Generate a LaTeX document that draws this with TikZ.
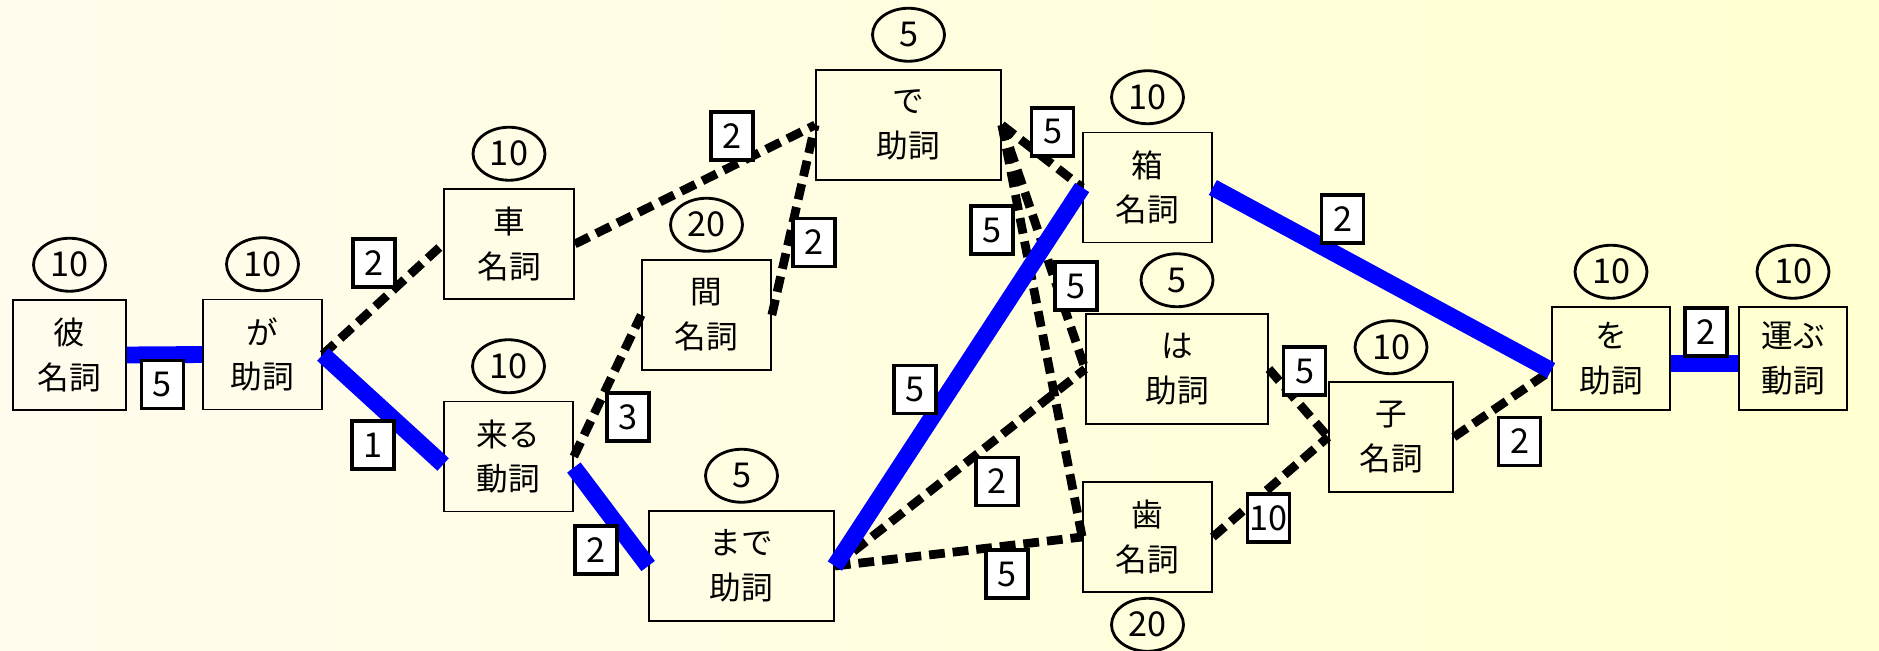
\documentclass[tikz,border=0pt]{standalone}
\usepackage{fontspec}
\setmainfont{Noto Sans CJK JP}
\usetikzlibrary{calc,positioning,shapes.geometric}
\definecolor{bgleft}{HTML}{FFFCEE}
\definecolor{bgright}{HTML}{FFFFD0}
\definecolor{pathblue}{HTML}{0000FF}

\begin{document}
\begin{tikzpicture}[x=0.02cm, y=-0.02cm,
    word/.style={draw=black, line width=1pt, minimum height=2.2cm, inner sep=0pt,
      align=center, font=\fontsize{18}{25.5}\selectfont},
    cost/.style={ellipse, draw=black, line width=1.6pt, minimum width=1.44cm,
      minimum height=1.06cm, inner sep=0pt, font=\fontsize{19.5}{19.5}\selectfont},
    weight/.style={draw=black, line width=1.8pt, fill=white, minimum width=0.84cm,
      minimum height=0.96cm, inner sep=0pt, font=\fontsize{19.5}{19.5}\selectfont},
    best/.style={draw=pathblue, line width=9.6pt},
    other/.style={draw=black, line width=5pt, dash pattern=on 9pt off 4.5pt}]

     \useasboundingbox (0,0) rectangle (1879,650);
     \shade[left color=bgleft, right color=bgright] (0,0) rectangle (1879,650);

     \node[word, minimum width=2.26cm] (kare)   at (69.5,355)   {彼\\名詞};
     \node[word, minimum width=2.38cm] (ga)     at (262.5,354.5) {が\\助詞};
     \node[word, minimum width=2.6cm]  (kuruma) at (509,244)    {車\\名詞};
     \node[word, minimum width=2.58cm] (kuru)   at (508.5,456.5) {来る\\動詞};
     \node[word, minimum width=2.58cm] (aida)   at (706.5,315)  {間\\名詞};
     \node[word, minimum width=3.7cm]  (de)     at (908.5,125)  {で\\助詞};
     \node[word, minimum width=3.7cm]  (made)   at (741.5,566)  {まで\\助詞};
     \node[word, minimum width=2.58cm] (hako)   at (1147.5,187.5) {箱\\名詞};
     \node[word, minimum width=3.64cm] (wa)     at (1177,369)   {は\\助詞};
     \node[word, minimum width=2.58cm] (ha)     at (1147.5,537) {歯\\名詞};
     \node[word, minimum width=2.48cm] (ko)     at (1391,437)   {子\\名詞};
     \node[word, minimum width=2.36cm, minimum height=2.06cm] (wo)     at (1611,358.5) {を\\助詞};
     \node[word, minimum width=2.16cm, minimum height=2.06cm] (hakobu) at (1793,358.5) {運ぶ\\動詞};

     \node[cost, above=0.13cm of kare]   (kareC)   {10};
     \node[cost, above=0.13cm of ga]     (gaC)     {10};
     \node[cost, above=0.13cm of kuruma] (kurumaC) {10};
     \node[cost, above=0.13cm of kuru]   (kuruC)   {10};
     \node[cost, above=0.13cm of aida]   (aidaC)   {20};
     \node[cost, above=0.13cm of de]     (deC)     {5};
     \node[cost, above=0.13cm of made]   (madeC)   {5};
     \node[cost, above=0.13cm of hako]   (hakoC)   {10};
     \node[cost, above=0.1cm of wa]      (waC)     {5};
     \node[cost, below=0.08cm of ha]     (haC)     {20};
     \node[cost, above=0.12cm of ko]     (koC)     {10};
     \node[cost, above=0.13cm of wo]     (woC)     {10};
     \node[cost, above=0.13cm of hakobu] (hakobuC) {10};

     \coordinate (kuruIn)   at ($(kuru.west)+(0,8)$);
     \coordinate (kuruOut)  at ($(kuru.east)+(0,11)$);
     \coordinate (woIn)     at ($(wo.west)+(0,12)$);
     \coordinate (woOut)    at ($(wo.east)+(0,5)$);
     \coordinate (hakobuIn) at ($(hakobu.west)+(0,5)$);

     \draw[other] (ga.east) -- (kuruma.west);
     \draw[other] (kuruma.east) -- (de.west);
     \draw[other] (kuru.east) -- (aida.west);
     \draw[other] (aida.east) -- (de.west);
     \draw[other] (de.east) -- (hako.west);
     \draw[other] (de.east) -- (wa.west);
     \draw[other] (de.east) -- (ha.west);
     \draw[other] (made.east) -- (wa.west);
     \draw[other] (made.east) -- (ha.west);
     \draw[other] (wa.east) -- (ko.west);
     \draw[other] (ha.east) -- (ko.west);
     \draw[other] (ko.east) -- (woIn);

     \draw[best] (kare.east) -- (ga.west);
     \draw[best] (ga.east) -- (kuruIn);
     \draw[best] (kuruOut) -- (made.west);
     \draw[best] (made.east) -- (hako.west);
     \draw[best] (hako.east) -- (woIn);
     \draw[best] (woOut) -- (hakobuIn);

     \foreach \x/\y/\w [count=\i] in {162.5/384.5/5, 374/263/2, 373/445/1, 732/136/2,
         628/417/3, 596/550/2, 814/242.5/2, 1052.5/132/5, 992/230/5, 1076/286/5,
         915/389.5/5, 997/481.5/2, 1007/574/5, 1342.5/219/2, 1304.5/371/5,
         1268.5/518/10, 1519.5/441.5/2, 1706/332/2}
       \node[weight] (w\i) at (\x,\y) {\w};

  \end{tikzpicture}
\end{document}
